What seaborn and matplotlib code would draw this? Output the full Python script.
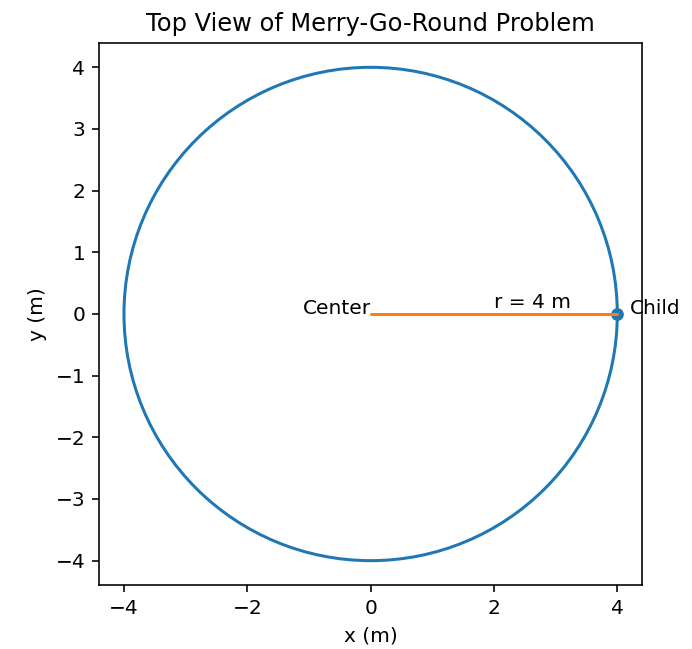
import pandas as pd
import matplotlib.pyplot as plt
import seaborn as sns
import numpy as np

sns.set_style("white")
plt.rcParams['font.family'] = ['DejaVu Sans']
plt.rcParams['font.size'] = 10
plt.rcParams['axes.titlesize'] = 12
plt.rcParams['axes.labelsize'] = 10
plt.rcParams['text.color'] = 'black'
plt.rcParams['axes.labelcolor'] = 'black'
plt.rcParams['xtick.color'] = 'black'
plt.rcParams['ytick.color'] = 'black'

# merry-go-round geometry
radius = 4
center = [0, 0]
child = [4, 0]
radius_x = [center[0], child[0]]
radius_y = [center[1], child[1]]
labels = ['Center', 'Child', 'r = 4 m']

DPI = 145
fig = plt.figure(figsize=(692 / DPI, 649 / DPI), dpi=DPI)
ax = fig.add_axes([0.1435, 0.0971, 0.7842, 0.8382])

rim = plt.Circle((center[0], center[1]), radius, fill=False, color='#1f77b4', linewidth=1.5)
ax.add_patch(rim)

sns.scatterplot(x=[child[0]], y=[child[1]], color='#1f77b4', s=40, linewidth=0, ax=ax, zorder=2)
sns.lineplot(x=radius_x, y=radius_y, color='#ff7f0e', linewidth=1.5, ax=ax, zorder=3)

ax.text(center[0], center[1], labels[0], ha='right')
ax.text(child[0] + 0.2, child[1], labels[1], ha='left')
ax.text(child[0] / 2, 0.1, labels[2], ha='left')

ax.set_xlim(-4.4, 4.4)
ax.set_ylim(-4.4, 4.4)
ax.set_aspect('equal')
ax.set_xticks([-4, -2, 0, 2, 4])
ax.set_yticks([-4, -3, -2, -1, 0, 1, 2, 3, 4])
ax.tick_params(direction='out', length=3.5, width=0.8, pad=3.5, left=True, bottom=True)
for sp in ax.spines.values():
    sp.set_color('black')
    sp.set_linewidth(0.8)
ax.set_title('Top View of Merry-Go-Round Problem')
ax.set_xlabel('x (m)')
ax.set_ylabel('y (m)')

fig.savefig('out.png', dpi=DPI)
